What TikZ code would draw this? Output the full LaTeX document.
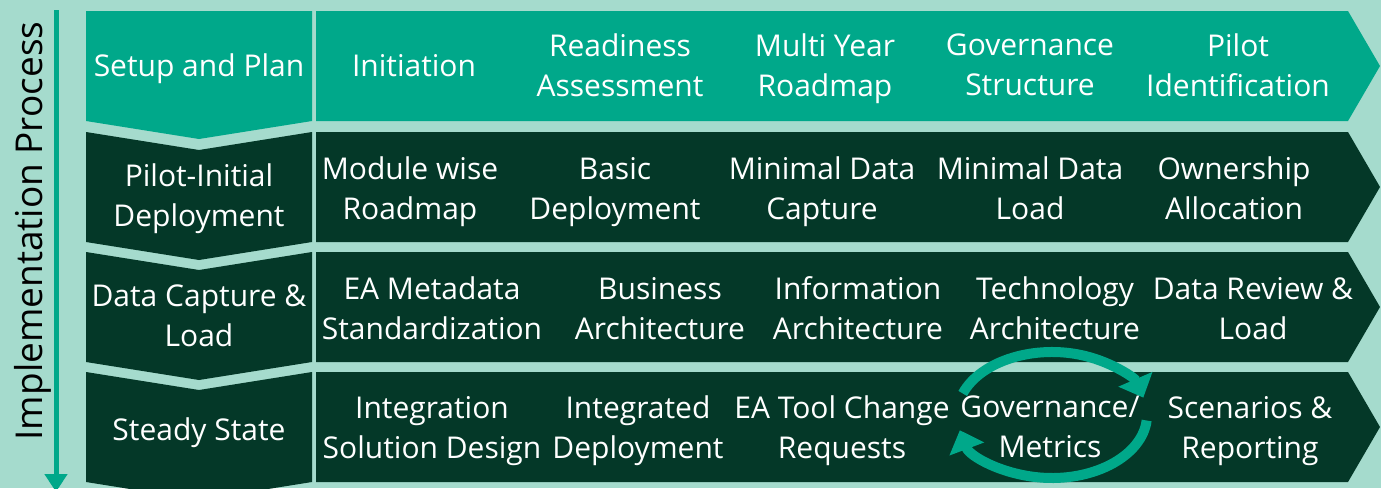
\documentclass[tikz,border=0pt]{standalone}
\usepackage{fontspec}
\setmainfont{Open Sans}
\usetikzlibrary{arrows.meta,calc}
\definecolor{mintbg}{RGB}{165,219,205}
\definecolor{planteal}{RGB}{0,168,138}
\definecolor{deepgreen}{RGB}{4,56,40}
\begin{document}
\begin{tikzpicture}
[
x=1pt,y=-1pt,
itemtext/.style={text=white,align=center,inner sep=0pt,font=\fontsize{30}{40}\selectfont,
  execute at begin node=\strut,execute at end node=\strut},
stagetext/.style={itemtext},
cyclearrow/.style={planteal,line width=10pt,-{Triangle[width=36pt,length=20pt]}},
]

\fill[mintbg] (0,0) rectangle (1381,488);
\useasboundingbox (0,0) rectangle (1381,488);

% process arrow on the left
\coordinate (ptop) at (56,10);
\coordinate (pbot) at (56,492);
\draw[planteal,line width=5pt,-{Triangle[width=22pt,length=18pt]}] (ptop) -- (pbot);
\node[rotate=90,inner sep=0pt,font=\fontsize{37}{40}\selectfont] (ptext) at (33,231) {Implementation Process};

% the four rows
\foreach \t/\n/\c in {11/0/planteal,132/18/deepgreen,252/18/deepgreen,372/18/deepgreen} {
  \fill[\c] (86,\t) -- (199,\t+\n) -- (312,\t) -- (312,\t+110) -- (199,\t+128) -- (86,\t+110) -- cycle;
  \fill[\c] (316,\t) -- (1348,\t) -- (1380,\t+55) -- (1348,\t+110) -- (316,\t+110) -- cycle;
}

% cycle round governance
\coordinate (cyc) at (1052,415);
\draw[cyclearrow] ($(cyc)+(160:95pt and 63pt)$) arc[start angle=160,end angle=16,x radius=95pt,y radius=63pt];
\draw[cyclearrow] ($(cyc)+(-5:95pt and 63pt)$) arc[start angle=-5,end angle=-166,x radius=95pt,y radius=63pt];

% stages
\node[stagetext] (s1) at (199,68) {Setup and Plan};
\node[stagetext] (s2) at (199,201) {Pilot-Initial\\Deployment};
\node[stagetext] (s3) at (199,322) {Data Capture \&\\Load};
\node[stagetext] (s4) at (199,432) {Steady State};

% steps of each stage
\node[itemtext] (a1) at (414,68) {Initiation};
\foreach \x/\txt [count=\i from 2] in {620/{Readiness\\Assessment},825/{Multi Year\\Roadmap},1030/{Governance\\Structure},1238/{Pilot\\Identification}}
  \node[itemtext] (a\i) at (\x,71) {\txt};
\foreach \x/\txt [count=\i] in {410/{Module wise\\Roadmap},615/{Basic\\Deployment},822/{Minimal Data\\Capture},1030/{Minimal Data\\Load},1234/{Ownership\\Allocation}}
  \node[itemtext] (b\i) at (\x,194) {\txt};
\foreach \x/\txt [count=\i] in {432/{EA Metadata\\Standardization},660/{Business\\Architecture},858/{Information\\Architecture},1055/{Technology\\Architecture},1253/{Data Review \&\\Load}}
  \node[itemtext] (c\i) at (\x,314) {\txt};
\foreach \x/\txt [count=\i] in {432/{Integration\\Solution Design},638/{Integrated\\Deployment},842/{EA Tool Change\\Requests},1050/{Governance/\\Metrics},1250/{Scenarios \&\\Reporting}}
  \node[itemtext] (d\i) at (\x,433) {\txt};

\end{tikzpicture}
\end{document}
